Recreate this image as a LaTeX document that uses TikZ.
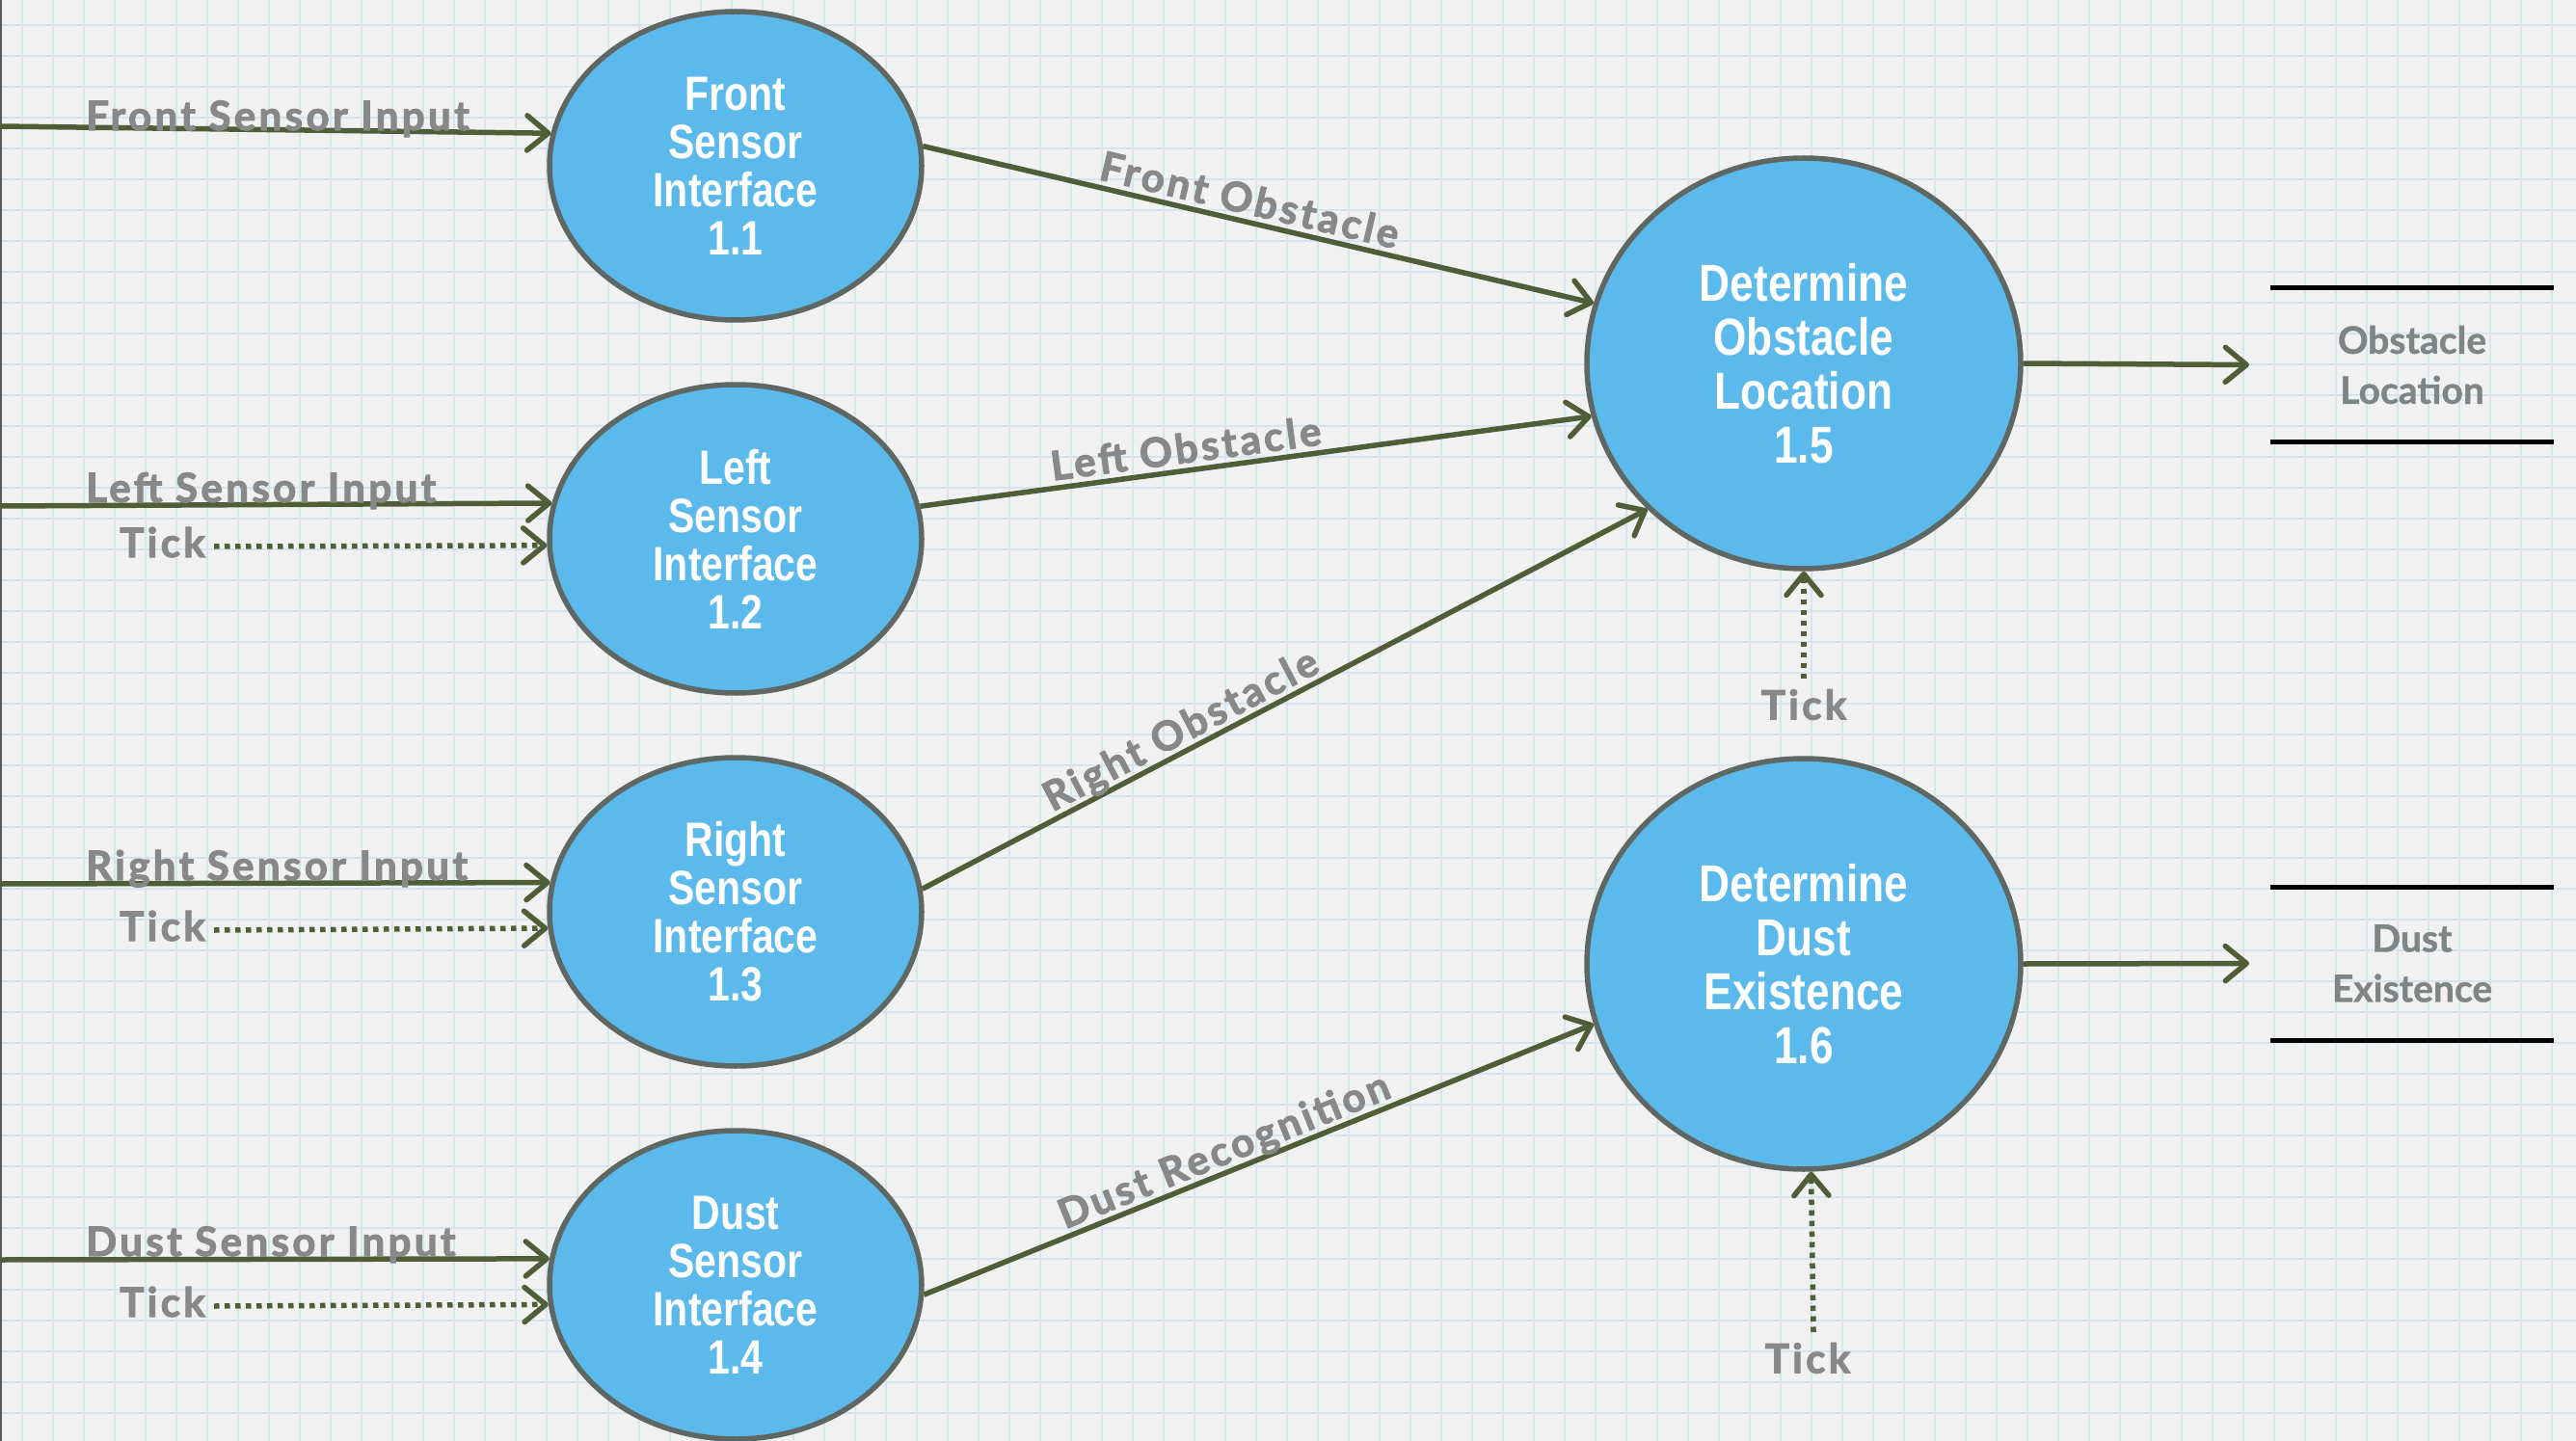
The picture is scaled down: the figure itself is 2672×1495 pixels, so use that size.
\documentclass[tikz,border=0pt]{standalone}
\usepackage{fontspec}
\usetikzlibrary{arrows.meta,shapes.geometric}
\newfontfamily\procfont{Liberation Sans}[FakeStretch=0.82]
\newfontfamily\labelfont{Lato}[LetterSpace=8, BoldFeatures={FakeBold=2.5}]
\newfontfamily\storefont{Lato}[BoldFeatures={FakeBold=1}]
\definecolor{paper}{RGB}{241,241,241}
\definecolor{gridc}{RGB}{212,229,237}
\definecolor{procfill}{RGB}{91,185,235}
\definecolor{procline}{RGB}{95,103,98}
\definecolor{flowc}{RGB}{80,94,56}
\definecolor{labelc}{RGB}{136,136,136}
\definecolor{storec}{RGB}{125,133,133}
\begin{document}
\begin{tikzpicture}[x=1pt,y=-1pt,
  proc/.style={ellipse, draw=procline, fill=procfill, line width=5.5pt, inner sep=0pt,
    align=center, text=white},
  small/.style={proc, minimum width=386pt, minimum height=320pt,
    font=\procfont\bfseries\fontsize{50}{50}\selectfont},
  big/.style={proc, minimum width=450pt, minimum height=426pt,
    font=\procfont\bfseries\fontsize{54}{56}\selectfont},
  flow/.style={draw=flowc, line width=5.5pt, -{Straight Barb[length=22pt,width=36pt,round]}},
  tickflow/.style={flow, dash pattern=on 5.5pt off 5.5pt},
  inlabel/.style={text=labelc, font=\labelfont\bfseries\fontsize{42}{42}\selectfont, inner sep=0pt},
  edgelabel/.style={inlabel, sloped, above, text depth=0pt, outer sep=8pt},
  store/.style={minimum width=294pt, minimum height=159pt, inner sep=0pt, outer sep=0pt, align=center,
    text=storec, font=\storefont\bfseries\fontsize{39}{52}\selectfont},
  storeline/.style={draw=black, line width=5pt}
]
\useasboundingbox (0,0) rectangle (2672,1495);
% squared paper
\fill[paper] (0,0) rectangle (2672,1495);
\foreach \x in {23,55,...,2672} \draw[gridc, line width=1.6pt] (\x,0) -- (\x,1495);
\foreach \y in {26,58,...,1495} \draw[gridc, line width=1.6pt] (0,\y) -- (2672,\y);
\draw[gray!70!black, line width=2.5pt] (1,0) -- (1,1495);

% processes
\node[small] (p11) at (763,172) {Front\\Sensor\\Interface\\1.1};
\node[small] (p12) at (763,559) {Left\\Sensor\\Interface\\1.2};
\node[small] (p13) at (763,946) {Right\\Sensor\\Interface\\1.3};
\node[small] (p14) at (763,1333) {Dust\\Sensor\\Interface\\1.4};
\node[big] (p15) at (1871,377) {Determine\\Obstacle\\Location\\1.5};
\node[big] (p16) at (1871,1000) {Determine\\Dust\\Existence\\1.6};

% data stores
\node[store] (os) at (2502,378.5) {Obstacle\\Location};
\node[store] (ds) at (2502,999.5) {Dust\\Existence};
\foreach \s in {os,ds} {
  \draw[storeline] (\s.north west) -- (\s.north east);
  \draw[storeline] (\s.south west) -- (\s.south east);
}

% external inputs
\coordinate (inF) at (0,131);
\coordinate (inL) at (0,525);
\coordinate (inR) at (0,917);
\coordinate (inD) at (0,1307);
\draw[flow] (inF) -- (p11.170.5);
\draw[flow] (inL) -- (p12.169.8);
\draw[flow] (inR) -- (p13.171.3);
\draw[flow] (inD) -- (p14.172.2);
\node[inlabel, anchor=base west] (lF) at (89,135) {Front Sensor Input};
\node[inlabel, anchor=base west] (lL) at (89,521) {Left Sensor Input};
\node[inlabel, anchor=base west] (lR) at (89,913) {Right Sensor Input};
\node[inlabel, anchor=base west] (lD) at (89,1303) {Dust Sensor Input};

% clock ticks into the interfaces
\node[inlabel, anchor=base east] (k2) at (213,578) {Tick};
\node[inlabel, anchor=base east] (k3) at (213,976) {Tick};
\node[inlabel, anchor=base east] (k4) at (213,1366) {Tick};
\draw[tickflow] ([xshift=9pt]k2.east |- 0,567) -- (p12.182.4);
\draw[tickflow] ([xshift=9pt]k3.east |- 0,965) -- (p13.185.7);
\draw[tickflow] ([xshift=9pt]k4.east |- 0,1355) -- (p14.186.6);

% interface outputs
\draw[flow] (p11.6.4) -- node[edgelabel, pos=0.48] {Front Obstacle} (p15.164.1);
\draw[flow] (p12.10.2) -- node[edgelabel, pos=0.40] {Left Obstacle} (p15.194.4);
\draw[flow] (p13.7.8) -- node[edgelabel, pos=0.37] {Right Obstacle} (p15.223);
\draw[flow] (p14.357.6) -- node[edgelabel, pos=0.46] {Dust Recognition} (p16.196.4);

% results to the stores
\draw[flow] (p15.east) -- ([xshift=-22pt]os.west);
\draw[flow] (p16.east) -- ([xshift=-22pt]ds.west);

% clock ticks into the deciders
\node[inlabel] (k5) at (1871,731) {Tick};
\node[inlabel] (k6) at (1875,1409) {Tick};
\coordinate (k5s) at (1871,704);
\coordinate (k6s) at (1881,1382);
\draw[tickflow] (k5s) -- (p15.south);
\draw[tickflow] (k6s) -- (p16.272.7);
\end{tikzpicture}
\end{document}
